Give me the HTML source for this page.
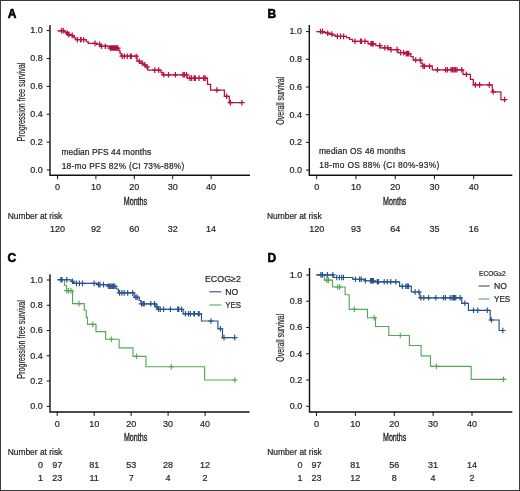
<!DOCTYPE html>
<html><head><meta charset="utf-8"><style>
html,body{margin:0;padding:0;background:#fff;}
body{width:520px;height:491px;overflow:hidden;position:relative;}
svg{position:absolute;left:0;top:0;}
text{font-family:"Liberation Sans",sans-serif;fill:#242424;stroke:#242424;stroke-width:0.2px;}
svg{filter:blur(0.3px);}
.tk{font-size:9px;}
.nr{font-size:8.5px;}
.nn{font-size:9px;}
.an{font-size:8.4px;}
.ttl{font-size:10.4px;}
.ttlb{font-size:10.6px;stroke:#222;stroke-width:0.35px;}
.pl{font-size:12px;font-weight:bold;fill:#000;stroke:#000;stroke-width:0.55px;}
.lg{font-size:8.6px;}
</style></head><body>
<svg width="520" height="491" viewBox="0 0 520 491">
<rect x="0.5" y="0.5" width="519" height="490" fill="#fff" stroke="#3a3a3a" stroke-width="1"/>
<path d="M50.00 25.00 V175.30 H250.00" fill="none" stroke="#111" stroke-width="1.4"/>
<line x1="46.70" y1="170.00" x2="50.00" y2="170.00" stroke="#111" stroke-width="1"/>
<text x="42.70" y="172.85" text-anchor="end" class="tk">0.0</text>
<line x1="46.70" y1="142.12" x2="50.00" y2="142.12" stroke="#111" stroke-width="1"/>
<text x="42.70" y="144.97" text-anchor="end" class="tk">0.2</text>
<line x1="46.70" y1="114.24" x2="50.00" y2="114.24" stroke="#111" stroke-width="1"/>
<text x="42.70" y="117.09" text-anchor="end" class="tk">0.4</text>
<line x1="46.70" y1="86.36" x2="50.00" y2="86.36" stroke="#111" stroke-width="1"/>
<text x="42.70" y="89.21" text-anchor="end" class="tk">0.6</text>
<line x1="46.70" y1="58.48" x2="50.00" y2="58.48" stroke="#111" stroke-width="1"/>
<text x="42.70" y="61.33" text-anchor="end" class="tk">0.8</text>
<line x1="46.70" y1="30.60" x2="50.00" y2="30.60" stroke="#111" stroke-width="1"/>
<text x="42.70" y="33.45" text-anchor="end" class="tk">1.0</text>
<line x1="57.50" y1="175.30" x2="57.50" y2="179.20" stroke="#111" stroke-width="1"/>
<text x="57.50" y="189.90" text-anchor="middle" class="tk">0</text>
<line x1="95.90" y1="175.30" x2="95.90" y2="179.20" stroke="#111" stroke-width="1"/>
<text x="95.90" y="189.90" text-anchor="middle" class="tk">10</text>
<line x1="134.30" y1="175.30" x2="134.30" y2="179.20" stroke="#111" stroke-width="1"/>
<text x="134.30" y="189.90" text-anchor="middle" class="tk">20</text>
<line x1="172.70" y1="175.30" x2="172.70" y2="179.20" stroke="#111" stroke-width="1"/>
<text x="172.70" y="189.90" text-anchor="middle" class="tk">30</text>
<line x1="211.10" y1="175.30" x2="211.10" y2="179.20" stroke="#111" stroke-width="1"/>
<text x="211.10" y="189.90" text-anchor="middle" class="tk">40</text>
<text transform="translate(24.70,102.10) rotate(-90)" x="-39.40" y="0" class="ttl" textLength="78.8" lengthAdjust="spacingAndGlyphs">Progression free survival</text>
<text x="123.80" y="204.70" class="ttlb" textLength="23.3" lengthAdjust="spacingAndGlyphs">Months</text>
<path d="M309.30 25.00 V175.30 H512.30" fill="none" stroke="#111" stroke-width="1.4"/>
<line x1="306.00" y1="170.10" x2="309.30" y2="170.10" stroke="#111" stroke-width="1"/>
<text x="302.00" y="172.95" text-anchor="end" class="tk">0.0</text>
<line x1="306.00" y1="142.40" x2="309.30" y2="142.40" stroke="#111" stroke-width="1"/>
<text x="302.00" y="145.25" text-anchor="end" class="tk">0.2</text>
<line x1="306.00" y1="114.70" x2="309.30" y2="114.70" stroke="#111" stroke-width="1"/>
<text x="302.00" y="117.55" text-anchor="end" class="tk">0.4</text>
<line x1="306.00" y1="87.00" x2="309.30" y2="87.00" stroke="#111" stroke-width="1"/>
<text x="302.00" y="89.85" text-anchor="end" class="tk">0.6</text>
<line x1="306.00" y1="59.30" x2="309.30" y2="59.30" stroke="#111" stroke-width="1"/>
<text x="302.00" y="62.15" text-anchor="end" class="tk">0.8</text>
<line x1="306.00" y1="31.60" x2="309.30" y2="31.60" stroke="#111" stroke-width="1"/>
<text x="302.00" y="34.45" text-anchor="end" class="tk">1.0</text>
<line x1="316.70" y1="175.30" x2="316.70" y2="179.20" stroke="#111" stroke-width="1"/>
<text x="316.70" y="189.90" text-anchor="middle" class="tk">0</text>
<line x1="355.95" y1="175.30" x2="355.95" y2="179.20" stroke="#111" stroke-width="1"/>
<text x="355.95" y="189.90" text-anchor="middle" class="tk">10</text>
<line x1="395.20" y1="175.30" x2="395.20" y2="179.20" stroke="#111" stroke-width="1"/>
<text x="395.20" y="189.90" text-anchor="middle" class="tk">20</text>
<line x1="434.45" y1="175.30" x2="434.45" y2="179.20" stroke="#111" stroke-width="1"/>
<text x="434.45" y="189.90" text-anchor="middle" class="tk">30</text>
<line x1="473.70" y1="175.30" x2="473.70" y2="179.20" stroke="#111" stroke-width="1"/>
<text x="473.70" y="189.90" text-anchor="middle" class="tk">40</text>
<text transform="translate(283.70,100.80) rotate(-90)" x="-23.90" y="0" class="ttl" textLength="47.8" lengthAdjust="spacingAndGlyphs">Overall survival</text>
<text x="383.10" y="204.70" class="ttlb" textLength="23.3" lengthAdjust="spacingAndGlyphs">Months</text>
<path d="M50.00 274.30 V412.00 H249.50" fill="none" stroke="#111" stroke-width="1.4"/>
<line x1="46.70" y1="406.30" x2="50.00" y2="406.30" stroke="#111" stroke-width="1"/>
<text x="42.70" y="409.15" text-anchor="end" class="tk">0.0</text>
<line x1="46.70" y1="381.04" x2="50.00" y2="381.04" stroke="#111" stroke-width="1"/>
<text x="42.70" y="383.89" text-anchor="end" class="tk">0.2</text>
<line x1="46.70" y1="355.78" x2="50.00" y2="355.78" stroke="#111" stroke-width="1"/>
<text x="42.70" y="358.63" text-anchor="end" class="tk">0.4</text>
<line x1="46.70" y1="330.52" x2="50.00" y2="330.52" stroke="#111" stroke-width="1"/>
<text x="42.70" y="333.37" text-anchor="end" class="tk">0.6</text>
<line x1="46.70" y1="305.26" x2="50.00" y2="305.26" stroke="#111" stroke-width="1"/>
<text x="42.70" y="308.11" text-anchor="end" class="tk">0.8</text>
<line x1="46.70" y1="280.00" x2="50.00" y2="280.00" stroke="#111" stroke-width="1"/>
<text x="42.70" y="282.85" text-anchor="end" class="tk">1.0</text>
<line x1="57.20" y1="412.00" x2="57.20" y2="415.90" stroke="#111" stroke-width="1"/>
<text x="57.20" y="426.60" text-anchor="middle" class="tk">0</text>
<line x1="94.17" y1="412.00" x2="94.17" y2="415.90" stroke="#111" stroke-width="1"/>
<text x="94.17" y="426.60" text-anchor="middle" class="tk">10</text>
<line x1="131.15" y1="412.00" x2="131.15" y2="415.90" stroke="#111" stroke-width="1"/>
<text x="131.15" y="426.60" text-anchor="middle" class="tk">20</text>
<line x1="168.12" y1="412.00" x2="168.12" y2="415.90" stroke="#111" stroke-width="1"/>
<text x="168.12" y="426.60" text-anchor="middle" class="tk">30</text>
<line x1="205.10" y1="412.00" x2="205.10" y2="415.90" stroke="#111" stroke-width="1"/>
<text x="205.10" y="426.60" text-anchor="middle" class="tk">40</text>
<text transform="translate(24.70,339.40) rotate(-90)" x="-39.25" y="0" class="ttl" textLength="78.5" lengthAdjust="spacingAndGlyphs">Progression free survival</text>
<text x="123.90" y="441.10" class="ttlb" textLength="23.3" lengthAdjust="spacingAndGlyphs">Months</text>
<path d="M309.50 268.10 V412.00 H512.30" fill="none" stroke="#111" stroke-width="1.4"/>
<line x1="306.20" y1="406.30" x2="309.50" y2="406.30" stroke="#111" stroke-width="1"/>
<text x="302.20" y="409.15" text-anchor="end" class="tk">0.0</text>
<line x1="306.20" y1="380.04" x2="309.50" y2="380.04" stroke="#111" stroke-width="1"/>
<text x="302.20" y="382.89" text-anchor="end" class="tk">0.2</text>
<line x1="306.20" y1="353.78" x2="309.50" y2="353.78" stroke="#111" stroke-width="1"/>
<text x="302.20" y="356.63" text-anchor="end" class="tk">0.4</text>
<line x1="306.20" y1="327.52" x2="309.50" y2="327.52" stroke="#111" stroke-width="1"/>
<text x="302.20" y="330.37" text-anchor="end" class="tk">0.6</text>
<line x1="306.20" y1="301.26" x2="309.50" y2="301.26" stroke="#111" stroke-width="1"/>
<text x="302.20" y="304.11" text-anchor="end" class="tk">0.8</text>
<line x1="306.20" y1="275.00" x2="309.50" y2="275.00" stroke="#111" stroke-width="1"/>
<text x="302.20" y="277.85" text-anchor="end" class="tk">1.0</text>
<line x1="316.50" y1="412.00" x2="316.50" y2="415.90" stroke="#111" stroke-width="1"/>
<text x="316.50" y="426.60" text-anchor="middle" class="tk">0</text>
<line x1="355.38" y1="412.00" x2="355.38" y2="415.90" stroke="#111" stroke-width="1"/>
<text x="355.38" y="426.60" text-anchor="middle" class="tk">10</text>
<line x1="394.25" y1="412.00" x2="394.25" y2="415.90" stroke="#111" stroke-width="1"/>
<text x="394.25" y="426.60" text-anchor="middle" class="tk">20</text>
<line x1="433.12" y1="412.00" x2="433.12" y2="415.90" stroke="#111" stroke-width="1"/>
<text x="433.12" y="426.60" text-anchor="middle" class="tk">30</text>
<line x1="472.00" y1="412.00" x2="472.00" y2="415.90" stroke="#111" stroke-width="1"/>
<text x="472.00" y="426.60" text-anchor="middle" class="tk">40</text>
<text transform="translate(283.80,337.80) rotate(-90)" x="-23.85" y="0" class="ttl" textLength="47.7" lengthAdjust="spacingAndGlyphs">Overall survival</text>
<text x="383.00" y="441.00" class="ttlb" textLength="23.3" lengthAdjust="spacingAndGlyphs">Months</text>
<text x="7.8" y="18.0" class="pl">A</text>
<text x="267.4" y="18.1" class="pl">B</text>
<text x="7.6" y="261.8" class="pl">C</text>
<text x="267.4" y="261.9" class="pl">D</text>
<text x="7.70" y="218.50" class="nr" textLength="54.6" lengthAdjust="spacingAndGlyphs">Number at risk</text>
<text x="57.50" y="231.90" text-anchor="middle" class="nn">120</text>
<text x="95.90" y="231.90" text-anchor="middle" class="nn">92</text>
<text x="134.30" y="231.90" text-anchor="middle" class="nn">60</text>
<text x="172.70" y="231.90" text-anchor="middle" class="nn">32</text>
<text x="211.10" y="231.90" text-anchor="middle" class="nn">14</text>
<text x="267.00" y="218.50" class="nr" textLength="54.6" lengthAdjust="spacingAndGlyphs">Number at risk</text>
<text x="316.70" y="231.90" text-anchor="middle" class="nn">120</text>
<text x="355.95" y="231.90" text-anchor="middle" class="nn">93</text>
<text x="395.20" y="231.90" text-anchor="middle" class="nn">64</text>
<text x="434.45" y="231.90" text-anchor="middle" class="nn">35</text>
<text x="473.70" y="231.90" text-anchor="middle" class="nn">16</text>
<text x="7.70" y="454.90" class="nr" textLength="54.6" lengthAdjust="spacingAndGlyphs">Number at risk</text>
<text x="40.60" y="468.20" text-anchor="middle" class="nn">0</text>
<text x="57.20" y="468.20" text-anchor="middle" class="nn">97</text>
<text x="94.17" y="468.20" text-anchor="middle" class="nn">81</text>
<text x="131.15" y="468.20" text-anchor="middle" class="nn">53</text>
<text x="168.12" y="468.20" text-anchor="middle" class="nn">28</text>
<text x="205.10" y="468.20" text-anchor="middle" class="nn">12</text>
<text x="40.60" y="481.30" text-anchor="middle" class="nn">1</text>
<text x="57.20" y="481.30" text-anchor="middle" class="nn">23</text>
<text x="94.17" y="481.30" text-anchor="middle" class="nn">11</text>
<text x="131.15" y="481.30" text-anchor="middle" class="nn">7</text>
<text x="168.12" y="481.30" text-anchor="middle" class="nn">4</text>
<text x="205.10" y="481.30" text-anchor="middle" class="nn">2</text>
<text x="267.20" y="454.90" class="nr" textLength="54.6" lengthAdjust="spacingAndGlyphs">Number at risk</text>
<text x="299.90" y="468.20" text-anchor="middle" class="nn">0</text>
<text x="316.50" y="468.20" text-anchor="middle" class="nn">97</text>
<text x="355.38" y="468.20" text-anchor="middle" class="nn">81</text>
<text x="394.25" y="468.20" text-anchor="middle" class="nn">56</text>
<text x="433.12" y="468.20" text-anchor="middle" class="nn">31</text>
<text x="472.00" y="468.20" text-anchor="middle" class="nn">14</text>
<text x="299.90" y="481.30" text-anchor="middle" class="nn">1</text>
<text x="316.50" y="481.30" text-anchor="middle" class="nn">23</text>
<text x="355.38" y="481.30" text-anchor="middle" class="nn">12</text>
<text x="394.25" y="481.30" text-anchor="middle" class="nn">8</text>
<text x="433.12" y="481.30" text-anchor="middle" class="nn">4</text>
<text x="472.00" y="481.30" text-anchor="middle" class="nn">2</text>
<text x="61.5" y="155.2" class="an" textLength="89.6" lengthAdjust="spacing">median PFS 44 months</text>
<text x="61.65" y="168.8" class="an" textLength="122.7" lengthAdjust="spacing">18-mo PFS 82% (CI 73%-88%)</text>
<text x="318.9" y="154.1" class="an" textLength="86.5" lengthAdjust="spacing">median OS 46 months</text>
<text x="319.35" y="167.7" class="an" textLength="120.0" lengthAdjust="spacing">18-mo OS 88% (CI 80%-93%)</text>
<path d="M57.40 30.80 H64.80 V32.00 H66.50 V33.20 H68.20 V34.60 H70.20 V35.40 H72.40 V36.60 H74.20 V37.80 H75.80 V39.70 H86.30 V41.60 H88.20 V43.40 H96.60 V44.40 H100.20 V46.20 H109.30 V48.00 H118.80 V50.60 H120.00 V53.30 H121.20 V56.20 H137.00 V61.20 H139.80 V63.00 H142.60 V64.80 H145.50 V66.80 H147.80 V70.10 H161.00 V72.40 H162.30 V74.80 H187.10 V78.10 H207.50 V84.30 H210.60 V90.00 H224.40 V96.30 H229.40 V102.70 H241.90" fill="none" stroke="#b8123c" stroke-width="1.25"/>
<path d="M58.70 30.80h5.60M61.50 28.00v5.60M60.50 30.80h5.60M63.30 28.00v5.60M64.70 33.20h5.60M67.50 30.40v5.60M65.90 34.60h5.60M68.70 31.80v5.60M69.40 35.40h5.60M72.20 32.60v5.60M74.60 39.70h5.60M77.40 36.90v5.60M77.70 39.70h5.60M80.50 36.90v5.60M78.30 39.70h5.60M81.10 36.90v5.60M80.90 39.70h5.60M83.70 36.90v5.60M92.20 43.40h5.60M95.00 40.60v5.60M96.80 44.40h5.60M99.60 41.60v5.60M98.70 46.20h5.60M101.50 43.40v5.60M102.50 46.20h5.60M105.30 43.40v5.60M107.40 48.00h5.60M110.20 45.20v5.60M108.50 48.00h5.60M111.30 45.20v5.60M109.50 48.00h5.60M112.30 45.20v5.60M110.50 48.00h5.60M113.30 45.20v5.60M111.70 48.00h5.60M114.50 45.20v5.60M112.70 48.00h5.60M115.50 45.20v5.60M113.90 48.00h5.60M116.70 45.20v5.60M115.00 48.00h5.60M117.80 45.20v5.60M119.40 56.20h5.60M122.20 53.40v5.60M121.60 56.20h5.60M124.40 53.40v5.60M124.50 56.20h5.60M127.30 53.40v5.60M127.60 56.20h5.60M130.40 53.40v5.60M128.50 56.20h5.60M131.30 53.40v5.60M133.40 56.20h5.60M136.20 53.40v5.60M136.50 61.20h5.60M139.30 58.40v5.60M139.40 63.00h5.60M142.20 60.20v5.60M142.10 64.80h5.60M144.90 62.00v5.60M144.20 66.80h5.60M147.00 64.00v5.60M152.00 70.10h5.60M154.80 67.30v5.60M155.90 70.10h5.60M158.70 67.30v5.60M161.00 74.80h5.60M163.80 72.00v5.60M165.70 74.80h5.60M168.50 72.00v5.60M172.60 74.80h5.60M175.40 72.00v5.60M180.20 74.80h5.60M183.00 72.00v5.60M181.60 74.80h5.60M184.40 72.00v5.60M183.70 74.80h5.60M186.50 72.00v5.60M187.10 78.10h5.60M189.90 75.30v5.60M188.80 78.10h5.60M191.60 75.30v5.60M191.40 78.10h5.60M194.20 75.30v5.60M192.50 78.10h5.60M195.30 75.30v5.60M196.20 78.10h5.60M199.00 75.30v5.60M200.90 78.10h5.60M203.70 75.30v5.60M202.40 78.10h5.60M205.20 75.30v5.60M214.10 90.00h5.60M216.90 87.20v5.60M223.80 96.30h5.60M226.60 93.50v5.60M227.60 102.70h5.60M230.40 99.90v5.60M239.10 102.70h5.60M241.90 99.90v5.60" fill="none" stroke="#b8123c" stroke-width="1.25"/>
<path d="M316.30 31.50 H323.50 V32.40 H326.00 V33.20 H329.00 V34.00 H332.50 V35.00 H335.50 V36.40 H346.50 V37.70 H349.50 V39.30 H352.50 V41.30 H368.00 V43.80 H375.80 V45.60 H380.00 V47.80 H390.50 V49.60 H398.00 V52.60 H405.00 V53.60 H410.80 V56.50 H413.20 V60.00 H420.80 V63.20 H422.50 V66.20 H432.30 V69.80 H463.00 V74.30 H470.40 V79.40 H473.30 V84.90 H492.30 V91.80 H500.90 V99.50 H504.60" fill="none" stroke="#b8123c" stroke-width="1.25"/>
<path d="M317.70 31.50h5.60M320.50 28.70v5.60M319.70 31.50h5.60M322.50 28.70v5.60M324.90 33.20h5.60M327.70 30.40v5.60M329.00 34.00h5.60M331.80 31.20v5.60M334.60 36.40h5.60M337.40 33.60v5.60M337.70 36.40h5.60M340.50 33.60v5.60M340.80 36.40h5.60M343.60 33.60v5.60M352.20 41.30h5.60M355.00 38.50v5.60M357.70 41.30h5.60M360.50 38.50v5.60M358.70 41.30h5.60M361.50 38.50v5.60M362.20 41.30h5.60M365.00 38.50v5.60M368.20 43.80h5.60M371.00 41.00v5.60M369.20 43.80h5.60M372.00 41.00v5.60M370.40 43.80h5.60M373.20 41.00v5.60M377.00 45.60h5.60M379.80 42.80v5.60M382.00 47.80h5.60M384.80 45.00v5.60M385.00 47.80h5.60M387.80 45.00v5.60M388.20 49.60h5.60M391.00 46.80v5.60M394.20 49.60h5.60M397.00 46.80v5.60M397.90 52.60h5.60M400.70 49.80v5.60M400.80 52.60h5.60M403.60 49.80v5.60M403.50 53.60h5.60M406.30 50.80v5.60M404.70 53.60h5.60M407.50 50.80v5.60M406.00 53.60h5.60M408.80 50.80v5.60M412.90 60.00h5.60M415.70 57.20v5.60M417.40 60.00h5.60M420.20 57.20v5.60M420.20 66.20h5.60M423.00 63.40v5.60M421.70 66.20h5.60M424.50 63.40v5.60M426.80 66.20h5.60M429.60 63.40v5.60M434.60 69.80h5.60M437.40 67.00v5.60M442.80 69.80h5.60M445.60 67.00v5.60M444.50 69.80h5.60M447.30 67.00v5.60M448.20 69.80h5.60M451.00 67.00v5.60M449.70 69.80h5.60M452.50 67.00v5.60M451.20 69.80h5.60M454.00 67.00v5.60M452.60 69.80h5.60M455.40 67.00v5.60M454.20 69.80h5.60M457.00 67.00v5.60M458.90 69.80h5.60M461.70 67.00v5.60M463.60 74.30h5.60M466.40 71.50v5.60M472.50 84.90h5.60M475.30 82.10v5.60M476.80 84.90h5.60M479.60 82.10v5.60M486.50 84.90h5.60M489.30 82.10v5.60M490.40 91.80h5.60M493.20 89.00v5.60M501.80 99.50h5.60M504.60 96.70v5.60" fill="none" stroke="#b8123c" stroke-width="1.25"/>
<path d="M57.20 279.70 H64.50 V285.20 H66.40 V290.60 H72.60 V303.60 H84.30 V310.20 H86.30 V317.30 H87.50 V324.40 H96.00 V331.60 H105.60 V339.20 H119.10 V347.90 H133.00 V356.30 H146.00 V366.70 H204.60 V380.00 H234.90" fill="none" stroke="#55a955" stroke-width="1.15"/>
<path d="M64.00 290.60h5.60M66.80 287.80v5.60M65.80 290.60h5.60M68.60 287.80v5.60M68.20 290.60h5.60M71.00 287.80v5.60M76.20 303.60h5.60M79.00 300.80v5.60M90.00 324.40h5.60M92.80 321.60v5.60M108.60 339.20h5.60M111.40 336.40v5.60M133.70 356.30h5.60M136.50 353.50v5.60M168.50 366.70h5.60M171.30 363.90v5.60M232.10 380.00h5.60M234.90 377.20v5.60" fill="none" stroke="#55a955" stroke-width="1.15"/>
<path d="M57.20 279.70 H71.20 V281.20 H73.50 V283.40 H97.40 V284.60 H107.50 V286.20 H116.20 V289.00 H118.50 V292.90 H134.20 V297.30 H139.20 V300.50 H141.00 V303.80 H155.80 V306.80 H158.00 V309.30 H183.10 V313.80 H201.50 V321.00 H217.90 V328.70 H222.50 V337.60 H234.70" fill="none" stroke="#27528a" stroke-width="1.15"/>
<path d="M58.00 279.70h5.60M60.80 276.90v5.60M59.20 279.70h5.60M62.00 276.90v5.60M64.00 279.70h5.60M66.80 276.90v5.60M69.60 281.20h5.60M72.40 278.40v5.60M73.60 283.40h5.60M76.40 280.60v5.60M76.60 283.40h5.60M79.40 280.60v5.60M79.70 283.40h5.60M82.50 280.60v5.60M91.30 283.40h5.60M94.10 280.60v5.60M95.80 284.60h5.60M98.60 281.80v5.60M97.20 284.60h5.60M100.00 281.80v5.60M100.70 284.60h5.60M103.50 281.80v5.60M105.70 286.20h5.60M108.50 283.40v5.60M107.00 286.20h5.60M109.80 283.40v5.60M108.20 286.20h5.60M111.00 283.40v5.60M109.50 286.20h5.60M112.30 283.40v5.60M110.70 286.20h5.60M113.50 283.40v5.60M112.00 286.20h5.60M114.80 283.40v5.60M116.80 292.90h5.60M119.60 290.10v5.60M119.10 292.90h5.60M121.90 290.10v5.60M121.40 292.90h5.60M124.20 290.10v5.60M124.90 292.90h5.60M127.70 290.10v5.60M129.90 292.90h5.60M132.70 290.10v5.60M133.00 297.30h5.60M135.80 294.50v5.60M134.50 297.30h5.60M137.30 294.50v5.60M138.70 303.80h5.60M141.50 301.00v5.60M140.20 303.80h5.60M143.00 301.00v5.60M141.40 303.80h5.60M144.20 301.00v5.60M148.00 303.80h5.60M150.80 301.00v5.60M151.80 303.80h5.60M154.60 301.00v5.60M154.20 306.80h5.60M157.00 304.00v5.60M155.70 309.30h5.60M158.50 306.50v5.60M157.50 309.30h5.60M160.30 306.50v5.60M160.80 309.30h5.60M163.60 306.50v5.60M167.60 309.30h5.60M170.40 306.50v5.60M174.90 309.30h5.60M177.70 306.50v5.60M176.00 309.30h5.60M178.80 306.50v5.60M178.70 309.30h5.60M181.50 306.50v5.60M182.60 313.80h5.60M185.40 311.00v5.60M185.70 313.80h5.60M188.50 311.00v5.60M187.60 313.80h5.60M190.40 311.00v5.60M191.00 313.80h5.60M193.80 311.00v5.60M191.70 313.80h5.60M194.50 311.00v5.60M195.50 313.80h5.60M198.30 311.00v5.60M196.40 313.80h5.60M199.20 311.00v5.60M208.10 321.00h5.60M210.90 318.20v5.60M217.60 328.70h5.60M220.40 325.90v5.60M221.20 337.60h5.60M224.00 334.80v5.60M231.90 337.60h5.60M234.70 334.80v5.60" fill="none" stroke="#27528a" stroke-width="1.15"/>
<path d="M316.30 274.90 H324.40 V280.10 H332.50 V287.00 H345.10 V294.70 H349.20 V309.30 H367.50 V317.70 H375.50 V326.50 H388.80 V335.50 H409.40 V345.50 H421.10 V355.80 H430.50 V366.30 H471.20 V379.30 H503.50" fill="none" stroke="#55a955" stroke-width="1.15"/>
<path d="M323.90 280.10h5.60M326.70 277.30v5.60M325.60 280.10h5.60M328.40 277.30v5.60M334.90 287.00h5.60M337.70 284.20v5.60M336.90 287.00h5.60M339.70 284.20v5.60M351.60 309.30h5.60M354.40 306.50v5.60M371.40 317.70h5.60M374.20 314.90v5.60M397.50 335.50h5.60M400.30 332.70v5.60M433.60 366.30h5.60M436.40 363.50v5.60M500.70 379.30h5.60M503.50 376.50v5.60" fill="none" stroke="#55a955" stroke-width="1.15"/>
<path d="M316.30 274.90 H333.60 V277.50 H352.70 V279.20 H365.00 V280.70 H374.00 V281.80 H399.60 V286.30 H411.30 V292.00 H419.90 V297.80 H461.70 V303.30 H468.40 V310.30 H490.20 V320.00 H499.10 V330.50 H502.80" fill="none" stroke="#27528a" stroke-width="1.15"/>
<path d="M318.10 274.90h5.60M320.90 272.10v5.60M319.60 274.90h5.60M322.40 272.10v5.60M324.50 274.90h5.60M327.30 272.10v5.60M330.00 274.90h5.60M332.80 272.10v5.60M334.00 277.50h5.60M336.80 274.70v5.60M336.60 277.50h5.60M339.40 274.70v5.60M338.90 277.50h5.60M341.70 274.70v5.60M340.70 277.50h5.60M343.50 274.70v5.60M352.60 279.20h5.60M355.40 276.40v5.60M356.80 279.20h5.60M359.60 276.40v5.60M358.40 279.20h5.60M361.20 276.40v5.60M362.60 280.70h5.60M365.40 277.90v5.60M367.70 280.70h5.60M370.50 277.90v5.60M368.70 280.70h5.60M371.50 277.90v5.60M369.70 280.70h5.60M372.50 277.90v5.60M370.70 280.70h5.60M373.50 277.90v5.60M374.50 281.80h5.60M377.30 279.00v5.60M375.70 281.80h5.60M378.50 279.00v5.60M381.40 281.80h5.60M384.20 279.00v5.60M384.50 281.80h5.60M387.30 279.00v5.60M388.00 281.80h5.60M390.80 279.00v5.60M393.00 281.80h5.60M395.80 279.00v5.60M399.50 286.30h5.60M402.30 283.50v5.60M403.00 286.30h5.60M405.80 283.50v5.60M404.50 286.30h5.60M407.30 283.50v5.60M405.70 286.30h5.60M408.50 283.50v5.60M412.30 292.00h5.60M415.10 289.20v5.60M416.10 292.00h5.60M418.90 289.20v5.60M418.10 297.80h5.60M420.90 295.00v5.60M421.00 297.80h5.60M423.80 295.00v5.60M425.80 297.80h5.60M428.60 295.00v5.60M433.00 297.80h5.60M435.80 295.00v5.60M440.70 297.80h5.60M443.50 295.00v5.60M442.60 297.80h5.60M445.40 295.00v5.60M447.40 297.80h5.60M450.20 295.00v5.60M449.30 297.80h5.60M452.10 295.00v5.60M450.70 297.80h5.60M453.50 295.00v5.60M451.70 297.80h5.60M454.50 295.00v5.60M453.00 297.80h5.60M455.80 295.00v5.60M457.30 297.80h5.60M460.10 295.00v5.60M462.10 303.30h5.60M464.90 300.50v5.60M470.70 310.30h5.60M473.50 307.50v5.60M475.00 310.30h5.60M477.80 307.50v5.60M484.50 310.30h5.60M487.30 307.50v5.60M488.60 320.00h5.60M491.40 317.20v5.60M500.00 330.50h5.60M502.80 327.70v5.60" fill="none" stroke="#27528a" stroke-width="1.15"/>
<text x="204.90" y="281.50" class="lg" style="font-size:8.9px" textLength="36.0" lengthAdjust="spacingAndGlyphs">ECOG<tspan style="font-size:8.90px">≥</tspan>2</text>
<line x1="209.3" y1="291.8" x2="221.3" y2="291.8" stroke="#27528a" stroke-width="1.1"/>
<line x1="209.3" y1="305.0" x2="221.3" y2="305.0" stroke="#55a955" stroke-width="1.1"/>
<text x="225.2" y="294.70" class="lg" textLength="13.0" lengthAdjust="spacingAndGlyphs">NO</text>
<text x="225.2" y="307.90" class="lg" textLength="15.8" lengthAdjust="spacingAndGlyphs">YES</text>
<text x="479.00" y="275.80" class="lg" style="font-size:6.4px" textLength="26.8" lengthAdjust="spacingAndGlyphs">ECOG<tspan style="font-size:6.40px">≥</tspan>2</text>
<line x1="478.6" y1="286.0" x2="489.6" y2="286.0" stroke="#27528a" stroke-width="1.1"/>
<line x1="478.6" y1="299.0" x2="489.6" y2="299.0" stroke="#55a955" stroke-width="1.1"/>
<text x="494.0" y="288.90" class="lg" textLength="12.9" lengthAdjust="spacingAndGlyphs">NO</text>
<text x="494.0" y="301.90" class="lg" textLength="16.2" lengthAdjust="spacingAndGlyphs">YES</text>

</svg>
</body></html>
